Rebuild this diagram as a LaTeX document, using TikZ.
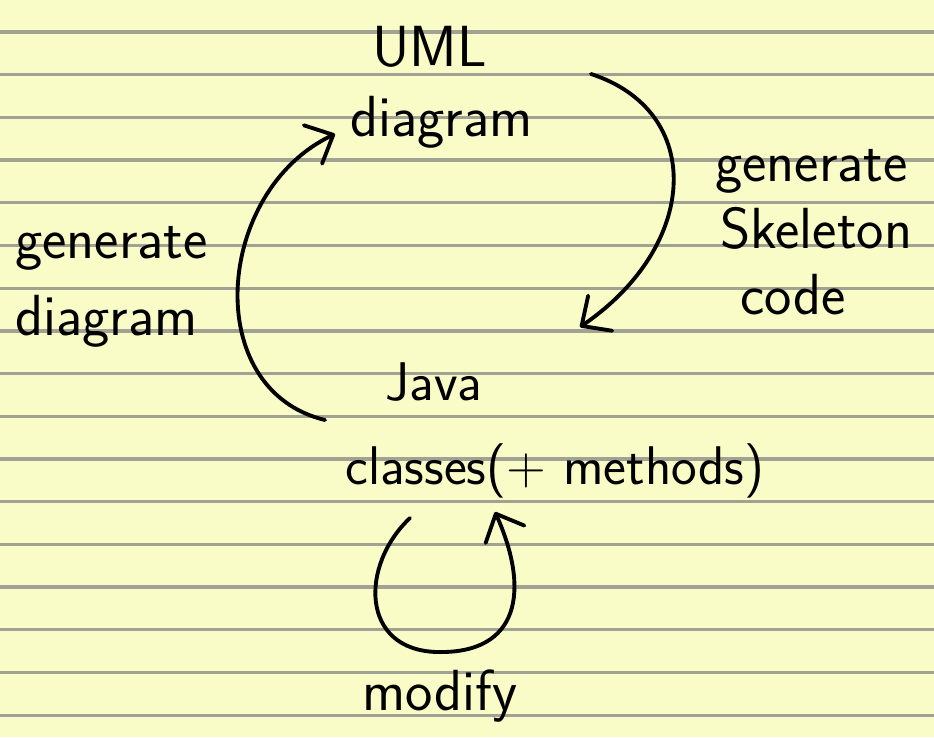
\documentclass[tikz,border=0pt]{standalone}
\usepackage{tikz}
\usetikzlibrary{arrows.meta}

\definecolor{paperbg}{RGB}{249,252,198}
\definecolor{ruleline}{RGB}{162,162,148}

\tikzset{
  hand/.style={font=\sffamily\fontsize{33}{40}\selectfont, inner sep=0pt, align=left, anchor=north west},
  ink/.style={line width=2.2pt, line cap=round, line join=round},
  arr/.style={ink, -{Straight Barb[length=4.5mm,width=8.5mm,round]}},
}

\begin{document}
\begin{tikzpicture}[x=0.2mm,y=-0.2mm]
	% paper and ruling
	\fill[paperbg] (0,0) rectangle (934,737);
	\useasboundingbox (0,0) rectangle (934,737);
	\foreach \k in {0,...,16}
		\draw[ruleline, line width=1.9pt] (0,32+42.7*\k) -- (934,32+42.7*\k);

	% the two artefacts
	\node[hand] (uml) at (350,26) {\hspace*{0.44cm}UML\\diagram};
	\node[hand, font=\sffamily\fontsize{31}{48}\selectfont] (java) at (345,362) {\hspace*{0.8cm}Java\\classes(+ methods)};

	% labels
	\node[hand, font=\sffamily\fontsize{33}{44}\selectfont] (gendiag) at (15,226) {generate\\diagram};
	\node[hand, font=\sffamily\fontsize{33}{38}\selectfont] (gencode) at (715,149) {generate\\\hspace*{0.1cm}Skeleton\\\hspace*{0.5cm}code};
	\node[hand, anchor=base] (modify) at (440,710) {modify};

	% arrows
	\draw[arr] ([shift={(241,48)}]uml.north west) .. controls +(114,37) and +(120,-82) .. ([shift={(235,-35)}]java.north west);
	\draw[arr] ([shift={(-20,58)}]java.north west) .. controls +(-125,-30) and +(-120,57) .. ([shift={(-15,108)}]uml.north west);
	\coordinate (loopbot) at ([shift={(92,290)}]java.north west);
	\draw[arr] ([shift={(65,156)}]java.north west) .. controls +(-50,47) and +(-77,-2) .. (loopbot)
		.. controls +(83,2) and +(35,78) .. ([shift={(150,150)}]java.north west);
\end{tikzpicture}
\end{document}
